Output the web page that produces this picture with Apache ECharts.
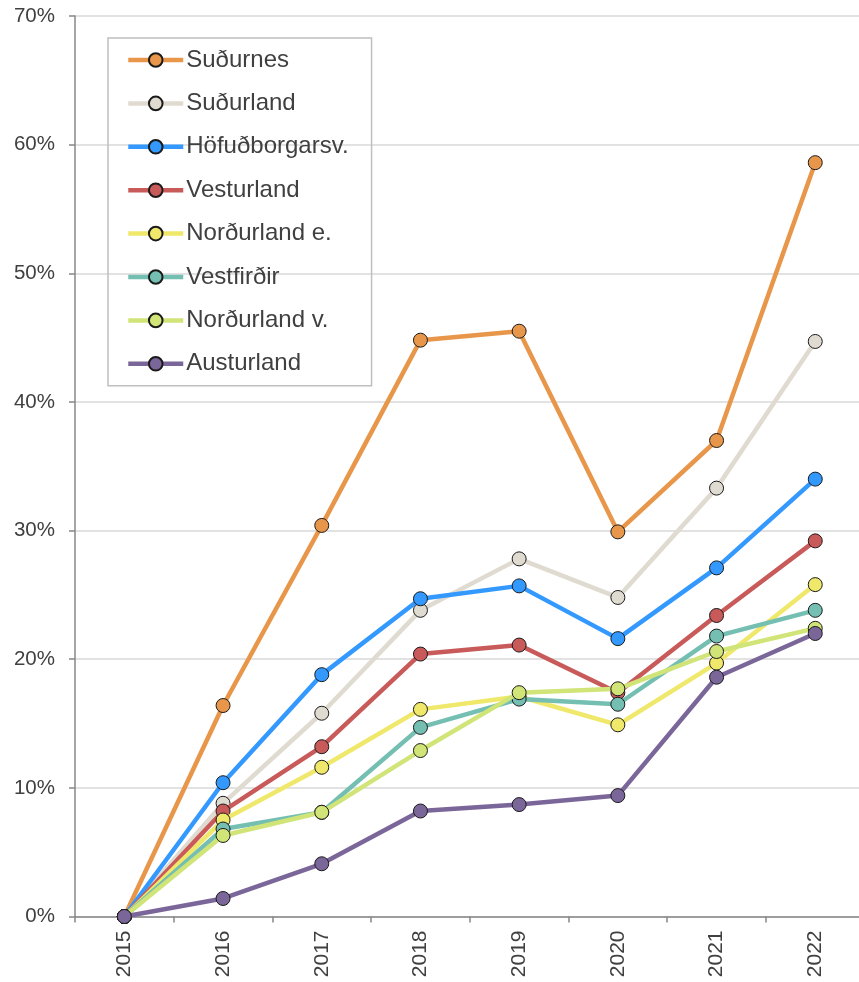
<!DOCTYPE html>
<html><head><meta charset="utf-8">
<script src="https://cdn.jsdelivr.net/npm/echarts@6/dist/echarts.min.js"></script>
<style>html,body{margin:0;padding:0;background:#fff;overflow:hidden}#c{width:865px;height:982px}</style>
</head><body><div id="c"></div>
<script>
const years = ['2015','2016','2017','2018','2019','2020','2021','2022'];
const yTicks = [0,10,20,30,40,50,60,70];
const sudurnes = [0,16.4,30.4,44.8,45.5,29.9,37.0,58.6];
const sudurland = [0,8.8,15.8,23.8,27.8,24.8,33.3,44.7];
const hofudborgarsv = [0,10.4,18.8,24.7,25.7,21.6,27.1,34.0];
const vesturland = [0,8.2,13.2,20.4,21.1,17.4,23.4,29.2];
const nordurlandE = [0,7.5,11.6,16.1,17.1,14.9,19.7,25.8];
const vestfirdir = [0,6.8,8.1,14.7,16.9,16.5,21.8,23.8];
const nordurlandV = [0,6.3,8.1,12.9,17.4,17.7,20.6,22.4];
const austurland = [0,1.4,4.1,8.2,8.7,9.4,18.6,22.0];

const names = ['Suðurnes','Suðurland','Höfuðborgarsv.','Vesturland','Norðurland e.','Vestfirðir','Norðurland v.','Austurland'];
const datasets = [sudurnes,sudurland,hofudborgarsv,vesturland,nordurlandE,vestfirdir,nordurlandV,austurland];
const colors = ['#E8964A','#E0DBD0','#3399FF','#C85A5A','#EFE86A','#74BFB2','#D0E477','#7B6699'];

const font = "'Liberation Sans', Arial, sans-serif";
const chart = echarts.init(document.getElementById('c'));
chart.setOption({
  animation:false,
  textStyle:{fontFamily:font},
  grid:{left:75,right:0.4,top:16,bottom:65.5,containLabel:false},
  legend:{
    orient:'vertical', left:108, top:38,
    itemWidth:55, itemHeight:17, itemGap:19.4,
    padding:[10,23,10,18],
    borderColor:'#bfbfbf', borderWidth:1.5,
    data:names,
    lineStyle:{width:4.5},
    textStyle:{fontSize:24,lineHeight:24,color:'#404040',fontFamily:font,padding:[0,0,0,-2]}
  },
  xAxis:{
    type:'category', data:years, boundaryGap:true,
    axisLine:{lineStyle:{color:'#878787',width:1.5}},
    axisTick:{show:true,length:6,lineStyle:{color:'#878787',width:1.5}},
    axisLabel:{rotate:90,margin:14,fontSize:21,color:'#404040',fontFamily:font},
    splitLine:{show:false}
  },
  yAxis:{
    type:'value', min:0, max:70, interval:10,
    axisLine:{show:true,lineStyle:{color:'#878787',width:1.5}},
    axisTick:{show:true,length:6,lineStyle:{color:'#878787',width:1.5}},
    axisLabel:{margin:20,fontSize:20.5,color:'#404040',fontFamily:font,
      formatter:v=> yTicks.includes(v) ? v+'%' : ''},
    splitLine:{lineStyle:{color:'#d9d9d9',width:1.5}}
  },
  series: names.map((n,i)=>({
    name:n, type:'line', data:datasets[i],
    symbol:'circle', symbolSize:14,
    lineStyle:{color:colors[i],width:4.5},
    itemStyle:{color:colors[i],borderColor:'#1a1a1a',borderWidth:1},
    z:2+i
  }))
});
</script></body></html>
